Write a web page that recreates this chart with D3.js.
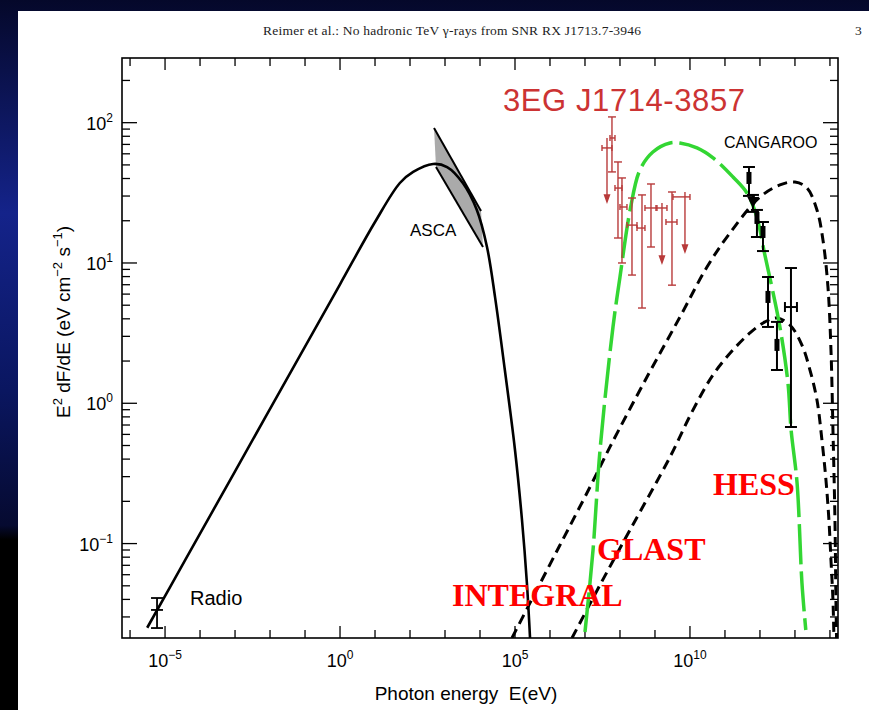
<!DOCTYPE html>
<html>
<head>
<meta charset="utf-8">
<script src="https://cdn.jsdelivr.net/npm/d3@7"></script>
<style>
  body { margin: 0; background: #000; }
  text { font-family: "Liberation Sans", Arial, sans-serif; }
</style>
</head>
<body>
<svg id="chart" width="869" height="710"></svg>
<script>
// all values as [log10 E(eV), log10 E^2 dF/dE]
var synchro = [[-5.51,-1.60],[-4.43,-1.12],[-3,-0.485],[-1,0.404],[0,0.848],[1,1.292],[1.71,1.57],
  [2.09,1.649],[2.66,1.706],[3.06,1.684],[3.51,1.57],[3.91,1.378],[4.2,1.114],[4.43,0.757],
  [4.71,0.237],[5.0,-0.333],[5.2,-0.832],[5.34,-1.281],[5.43,-1.673]];

var greenModel = [[7.0,-1.63],[7.23,-1.046],[7.43,-0.333],[7.8,0.544],[8.0,0.9],[8.29,1.378],
  [8.57,1.663],[8.94,1.791],[9.43,1.855],[9.71,1.855],[10.2,1.82],[10.66,1.749],[11.23,1.613],
  [11.63,1.499],[11.91,1.328],[12.14,1.057],[12.34,0.829],[12.57,0.544],[12.8,0.145],
  [12.89,-0.19],[13.06,-0.568],[13.2,-1.281],[13.31,-1.616]];

var dashedUpper = [[4.914,-1.673],[5.429,-1.423],[6.286,-1.01],[7.143,-0.597],[7.714,-0.311],
  [8.771,0.187],[9.714,0.615],[10.486,0.971],[11.143,1.214],[12.0,1.47],[12.571,1.556],
  [13.0,1.577],[13.343,1.535],[13.629,1.378],[13.8,1.164],[13.943,0.829],[14.029,0.38],
  [14.086,-0.19],[14.143,-0.832],[14.171,-1.402],[14.19,-1.7]];

var dashedLower = [[6.629,-1.673],[7.429,-1.295],[8.286,-0.903],[9.429,-0.383],[10.057,-0.062],
  [10.657,0.202],[11.229,0.38],[11.714,0.501],[12.143,0.58],[12.486,0.608],[12.857,0.558],
  [13.2,0.415],[13.429,0.237],[13.629,0.023],[13.771,-0.262],[13.886,-0.547],[13.971,-0.832],
  [14.029,-1.117],[14.086,-1.402],[14.114,-1.673]];

// ASCA bow tie: corners
var ascaBowtie = [[2.686,1.962],[4.029,1.371],[4.086,1.114],[2.743,1.684]];

// EGRET points: logE, logF, logF hi, logF lo, logE lo, logE hi, upper limit?
var egret = [
  [7.629,1.820,1.856,1.435,7.486,7.771,true],
  [7.771,1.891,2.041,1.649,7.714,7.857,false],
  [7.943,1.534,1.720,1.178,7.857,8.057,false],
  [8.057,1.399,1.606,1.000,8.0,8.2,false],
  [8.343,1.270,1.463,0.914,8.2,8.486,false],
  [8.629,1.249,1.485,0.679,8.486,8.714,false],
  [8.886,1.392,1.563,1.114,8.714,9.057,false],
  [9.2,1.392,1.392,1.000,9.029,9.343,true],
  [9.486,1.292,1.506,0.842,9.314,9.629,false],
  [9.857,1.471,1.471,1.078,9.514,10.0,true]
];

// CANGAROO / HESS points: logE, logF, logF hi, logF lo
var tevPoints = [
  [11.686,1.606,1.684,1.478],
  [11.8,1.435,1.485,1.364],
  [11.914,1.321,1.378,1.185],
  [12.086,1.221,1.292,1.085],
  [12.229,0.758,0.900,0.544],
  [12.486,0.416,0.580,0.237],
  [12.886,0.686,0.964,-0.169]
];
var tevXerr = [null,null,null,null,null,null,[12.714,13.057]];

// radio point
var radio = [-5.229,-1.473,-1.388,-1.602];

var xMajor = [-5, 0, 5, 10];
var yMajor = [-1, 0, 1, 2];

var svg = d3.select("#chart");
var pl = 122, pr = 838, pt = 58, pb = 638;

// slide background
var defs = svg.append("defs");
var grad = defs.append("linearGradient").attr("id", "bg").attr("x1", 0).attr("y1", 0).attr("x2", 0).attr("y2", 1);
grad.append("stop").attr("offset", "0%").attr("stop-color", "#05082a");
grad.append("stop").attr("offset", "30%").attr("stop-color", "#14238a");
grad.append("stop").attr("offset", "55%").attr("stop-color", "#0a1660");
grad.append("stop").attr("offset", "74%").attr("stop-color", "#060a30");
grad.append("stop").attr("offset", "76%").attr("stop-color", "#000");
grad.append("stop").attr("offset", "100%").attr("stop-color", "#000");
svg.append("rect").attr("width", 869).attr("height", 710).attr("fill", "url(#bg)");
svg.append("rect").attr("x", 18).attr("y", 11).attr("width", 851).attr("height", 699).attr("fill", "#fff");

defs.append("clipPath").attr("id", "frame").append("rect")
  .attr("x", pl).attr("y", pt).attr("width", pr - pl).attr("height", pb - pt);

var x = d3.scaleLog().domain([Math.pow(10, -6.23), Math.pow(10, 14.23)]).range([pl, pr]);
var y = d3.scaleLog().domain([Math.pow(10, -1.673), Math.pow(10, 2.461)]).range([pb, pt]);
function X(l) { return x(Math.pow(10, l)); }
function Y(l) { return y(Math.pow(10, l)); }

// header
svg.append("text").attr("x", 452).attr("y", 35).attr("text-anchor", "middle")
  .style("font-family", "'Liberation Serif', serif").style("font-size", "13.5px").attr("fill", "#222")
  .attr("textLength", 378)
  .text("Reimer et al.: No hadronic TeV \u03b3-rays from SNR RX J1713.7-3946");
svg.append("text").attr("x", 855).attr("y", 35)
  .style("font-family", "'Liberation Serif', serif").style("font-size", "13.5px").attr("fill", "#222").text("3");

// ticks
var xTicks = d3.range(-6, 15);
var yTicks = [];
for (var k = -2; k <= 2; k++) for (var m = 1; m < 10; m++) {
  var v = Math.log10(m) + k;
  if (v >= -1.673 && v <= 2.461) yTicks.push(v);
}
var g = svg.append("g").attr("stroke", "#000").attr("stroke-width", 1.3);
xTicks.forEach(function(t) {
  var len = xMajor.indexOf(t) >= 0 ? 12 : 8;
  g.append("line").attr("x1", X(t)).attr("x2", X(t)).attr("y1", pb).attr("y2", pb - len);
  g.append("line").attr("x1", X(t)).attr("x2", X(t)).attr("y1", pt).attr("y2", pt + len);
});
yTicks.forEach(function(t) {
  var len = Math.abs(t - Math.round(t)) < 1e-9 ? 15 : 8;
  g.append("line").attr("x1", pl).attr("x2", pl + len).attr("y1", Y(t)).attr("y2", Y(t));
  g.append("line").attr("x1", pr).attr("x2", pr - len).attr("y1", Y(t)).attr("y2", Y(t));
});

svg.append("rect").attr("x", pl).attr("y", pt).attr("width", pr - pl).attr("height", pb - pt)
  .attr("fill", "none").attr("stroke", "#000").attr("stroke-width", 1.6);

// tick labels
function sup(t) { return t < 0 ? "\u2212" + (-t) : "" + t; }
xMajor.forEach(function(t) {
  var tx = svg.append("text").attr("x", X(t)).attr("y", 667).attr("text-anchor", "middle")
    .style("font-size", "18px");
  tx.append("tspan").text("10");
  tx.append("tspan").attr("dy", -8).style("font-size", "12px").text(sup(t));
});
yMajor.forEach(function(t) {
  var tx = svg.append("text").attr("x", 113).attr("y", Y(t) + 7).attr("text-anchor", "end")
    .style("font-size", "18px");
  tx.append("tspan").text("10");
  tx.append("tspan").attr("dy", -8).style("font-size", "12px").text(sup(t));
});

// axis titles
svg.append("text").attr("x", 466).attr("y", 700).attr("text-anchor", "middle")
  .style("font-size", "19px").text("Photon energy \u00a0E(eV)");
var yt = svg.append("text").attr("transform", "translate(70,322) rotate(-90)")
  .attr("text-anchor", "middle").style("font-size", "19px");
yt.append("tspan").text("E");
yt.append("tspan").attr("dy", -8).style("font-size", "13px").text("2");
yt.append("tspan").attr("dy", 8).text(" dF/dE (eV cm");
yt.append("tspan").attr("dy", -8).style("font-size", "13px").text("\u22122");
yt.append("tspan").attr("dy", 8).text(" s");
yt.append("tspan").attr("dy", -8).style("font-size", "13px").text("\u22121");
yt.append("tspan").attr("dy", 8).text(")");

// curves
var plot = svg.append("g").attr("clip-path", "url(#frame)");
var line = d3.line().x(function(d) { return X(d[0]); }).y(function(d) { return Y(d[1]); })
  .curve(d3.curveCatmullRom.alpha(0.5));

plot.append("path").datum(ascaBowtie)
  .attr("d", d3.line().x(function(d) { return X(d[0]); }).y(function(d) { return Y(d[1]); }))
  .attr("fill", "#aaa").attr("stroke", "none");
plot.append("line").attr("x1", X(ascaBowtie[0][0])).attr("y1", Y(ascaBowtie[0][1]))
  .attr("x2", X(ascaBowtie[1][0])).attr("y2", Y(ascaBowtie[1][1])).attr("stroke", "#000").attr("stroke-width", 2);
plot.append("line").attr("x1", X(ascaBowtie[3][0])).attr("y1", Y(ascaBowtie[3][1]))
  .attr("x2", X(ascaBowtie[2][0])).attr("y2", Y(ascaBowtie[2][1])).attr("stroke", "#000").attr("stroke-width", 2);

plot.append("path").datum(synchro).attr("d", line).attr("fill", "none")
  .attr("stroke", "#000").attr("stroke-width", 2.6);
plot.append("path").datum(dashedUpper).attr("d", line).attr("fill", "none")
  .attr("stroke", "#000").attr("stroke-width", 3).attr("stroke-dasharray", "10,6");
plot.append("path").datum(dashedLower).attr("d", line).attr("fill", "none")
  .attr("stroke", "#000").attr("stroke-width", 3).attr("stroke-dasharray", "10,6");
plot.append("path").datum(greenModel).attr("d", line).attr("fill", "none")
  .attr("stroke", "#33d633").attr("stroke-width", 3.5).attr("stroke-dasharray", "40,7");

// EGRET error bars
var red = "#b83a3a";
var eg = svg.append("g").attr("stroke", red).attr("stroke-width", 1.4).attr("fill", red);
egret.forEach(function(p) {
  var cx = X(p[0]), cy = Y(p[1]);
  eg.append("line").attr("x1", X(p[4])).attr("x2", X(p[5])).attr("y1", cy).attr("y2", cy);
  eg.append("line").attr("x1", X(p[4])).attr("x2", X(p[4])).attr("y1", cy - 3).attr("y2", cy + 3);
  eg.append("line").attr("x1", X(p[5])).attr("x2", X(p[5])).attr("y1", cy - 3).attr("y2", cy + 3);
  if (p[6]) {
    var yl = Y(p[3]);
    eg.append("line").attr("x1", cx).attr("x2", cx).attr("y1", Y(p[2]) - 5).attr("y2", yl - 6);
    eg.append("path").attr("d", "M" + (cx - 2.5) + "," + (yl - 7) + "L" + (cx + 2.5) + "," + (yl - 7) + "L" + cx + "," + yl + "Z");
  } else {
    var yh = Y(p[2]), ylo = Y(p[3]);
    eg.append("line").attr("x1", cx).attr("x2", cx).attr("y1", yh).attr("y2", ylo);
    eg.append("line").attr("x1", cx - 4).attr("x2", cx + 4).attr("y1", yh).attr("y2", yh);
    eg.append("line").attr("x1", cx - 4).attr("x2", cx + 4).attr("y1", ylo).attr("y2", ylo);
  }
});

// TeV points
var tv = svg.append("g").attr("stroke", "#000").attr("stroke-width", 2).attr("fill", "#000");
tevPoints.forEach(function(p, i) {
  var cx = X(p[0]), cy = Y(p[1]), yh = Y(p[2]), ylo = Y(p[3]);
  tv.append("line").attr("x1", cx).attr("x2", cx).attr("y1", yh).attr("y2", ylo);
  tv.append("line").attr("x1", cx - 6).attr("x2", cx + 6).attr("y1", yh).attr("y2", yh);
  tv.append("line").attr("x1", cx - 6).attr("x2", cx + 6).attr("y1", ylo).attr("y2", ylo);
  if (i == 1) {
    tv.append("path").attr("d", "M" + (cx - 4) + "," + (cy - 4) + "L" + (cx + 4) + "," + (cy - 4) + "L" + cx + "," + (cy + 4) + "Z");
  } else if (i != 6) {
    tv.append("rect").attr("x", cx - 2.5).attr("y", cy - 6).attr("width", 5).attr("height", 12).attr("stroke", "none");
  }
  if (tevXerr[i]) {
    var a = X(tevXerr[i][0]), b = X(tevXerr[i][1]);
    tv.append("line").attr("x1", a).attr("x2", b).attr("y1", cy).attr("y2", cy);
    tv.append("line").attr("x1", a).attr("x2", a).attr("y1", cy - 5).attr("y2", cy + 5);
    tv.append("line").attr("x1", b).attr("x2", b).attr("y1", cy - 5).attr("y2", cy + 5);
  }
});

// radio point
var rx = X(radio[0]);
[radio[1], radio[2], radio[3]].forEach(function(v) {
  tv.append("line").attr("x1", rx - 6).attr("x2", rx + 6).attr("y1", Y(v)).attr("y2", Y(v)).attr("stroke-width", 1.8);
});
tv.append("line").attr("x1", rx).attr("x2", rx).attr("y1", Y(radio[2])).attr("y2", Y(radio[3])).attr("stroke-width", 1.8);

// labels
svg.append("text").attr("x", 503).attr("y", 111).style("font-size", "31px").attr("fill", "#cc3333")
  .attr("textLength", 242).text("3EG J1714-3857");
svg.append("text").attr("x", 724).attr("y", 148).style("font-size", "16px").text("CANGAROO");
svg.append("text").attr("x", 410).attr("y", 236).style("font-size", "17px").text("ASCA");
svg.append("text").attr("x", 190).attr("y", 605).style("font-size", "20px").text("Radio");

function bigLabel(t, px, py) {
  svg.append("text").attr("x", px).attr("y", py)
    .style("font-family", "'Liberation Serif', 'Times New Roman', serif")
    .style("font-size", "32px").style("font-weight", "bold").attr("fill", "#ff0000").text(t);
}
bigLabel("INTEGRAL", 452, 606);
bigLabel("GLAST", 597, 560);
bigLabel("HESS", 713, 495);
</script>
</body>
</html>
